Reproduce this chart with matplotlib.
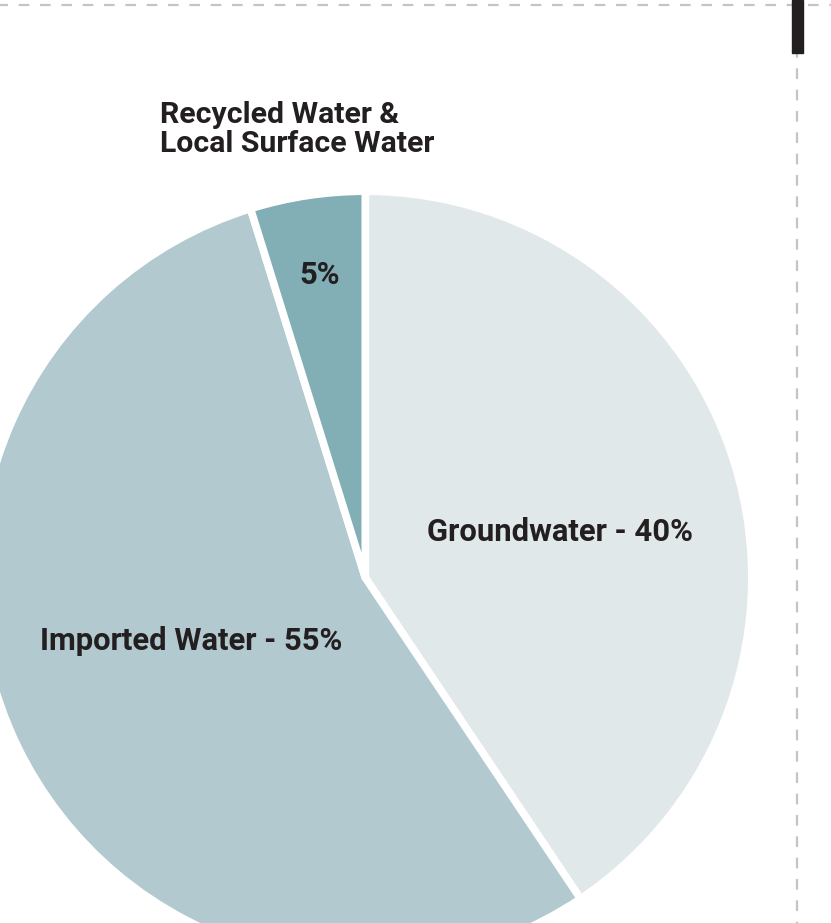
import matplotlib
matplotlib.use("Agg")
import matplotlib.pyplot as plt
from matplotlib.patches import Rectangle

# Data (shares; labels show rounded values)
categories = ["Groundwater", "Imported Water", "Recycled Water &\nLocal Surface Water"]
shares = [40.6, 54.6, 4.8]
colors = ["#E0E8EA", "#B1C9CF", "#82AEB5"]
label_texts = ["Groundwater - 40%", "Imported Water - 55%", "5%"]

W, H = 831, 923
fig = plt.figure(figsize=(W / 100, H / 100), dpi=100)
ax = fig.add_axes([0, 0, 1, 1])

def py(y):
    return H - y

cx, cy, r = 365.3, 577.7, 386.5
ax.pie(shares, colors=colors, startangle=90, counterclock=False,
       center=(cx, py(cy)), radius=r,
       wedgeprops=dict(edgecolor="white", linewidth=5.5, joinstyle="round"),
       frame=True)
ax.set_xlim(0, W)
ax.set_ylim(0, H)
ax.set_aspect("equal")
ax.axis("off")

font = dict(family=["Roboto", "DejaVu Sans"], fontweight="bold", color="#231F20")
fs = 22.3
ax.text(560, py(532), label_texts[0], ha="center", va="center", fontsize=fs, **font)
ax.text(191, py(641), label_texts[1], ha="center", va="center", fontsize=fs, **font)
ax.text(320, py(275), label_texts[2], ha="center", va="center", fontsize=fs, **font)
ax.text(160, py(129.5), categories[2], ha="left", va="center", fontsize=21.8,
        linespacing=1.08, **font)

# decorative frame: dashed lines and black bar
lw = 1.6
dash = dict(color="#C4C4C4", linewidth=lw, solid_capstyle="butt", dash_capstyle="butt")
ax.plot([0, W], [py(5), py(5)], linestyle=(1.2, (4.8, 4.8)), **dash)
ax.plot([796.7, 796.7], [py(47), py(H)], linestyle=(0, (4.8, 4.8)), **dash)
ax.add_patch(Rectangle((792, py(53)), 10.5, 53, color="#231F20", zorder=5))

fig.savefig("out.png", dpi=100)
